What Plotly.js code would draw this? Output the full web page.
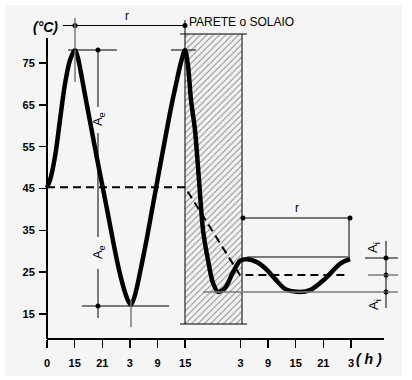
<!DOCTYPE html>
<html>
<head>
<meta charset="utf-8">
<script src="https://cdn.plot.ly/plotly-3.0.1.min.js"></script>
<style>html,body{margin:0;padding:0;background:#fff;}#chart{width:412px;height:380px;}</style>
</head>
<body>
<div id="chart"></div>
<script>
// ---- data (hours on a continuous scale, temperature in °C) ----
const curveHours = [9.0, 9.65, 10.3, 11.0, 11.82, 12.91, 14.0, 15.08,
  15.7, 16.4, 17.4, 18.6, 19.8, 21.0, 22.3, 23.6, 24.8, 25.9, 26.6, 27.24,
  28.1, 29.4, 30.7, 32.0, 33.3, 34.6, 35.9, 37.2, 38.1, 38.96,
  39.6, 40.26, 41.13, 42.0, 42.87, 43.95, 45.04, 46.13, 47.65, 49.38, 50.9, 52.42, 54.6, 56.33, 58.5, 60.67, 63.28, 66.1, 69.36, 72.6, 74.78];
const curveTemps = [45.2, 47.0, 50.0, 54.5, 61.4, 70.0, 75.7, 78.1,
  76.3, 72.5, 66.5, 59.5, 52.5, 45.8, 38.5, 31.0, 24.8, 20.3, 18.2, 17.2,
  19.5, 26.0, 33.2, 41.1, 48.9, 56.6, 64.2, 70.9, 75.2, 78.1,
  74.5, 66.2, 59.0, 47.0, 35.1, 27.9, 22.4, 20.3, 21.2, 25.0, 27.7, 28.1, 27.4, 26.0, 23.4, 21.0, 20.3, 20.7, 23.4, 27.0, 28.1];
const meanHours = [9, 38.96, 50.9, 74.35];
const meanTemps = [45.3, 45.3, 24.3, 24.3];
const tickHours = [9, 15, 21, 27, 33, 39, 51, 57, 63, 69, 75];
const tickLabels = ['0', '15', '21', '3', '9', '15', '3', '9', '15', '21', '3'];
const tempTicks = [15, 25, 35, 45, 55, 65, 75];
const wallHours = [38.96, 51.34];
const wallTemps = [12.61, 81.94];
const wallLabel = 'PARETE o SOLAIO';

const FONT = 'Liberation Sans, Arial, sans-serif';
const GRAY = '#7a7a7a';

function seg(x0, y0, x1, y1, color, width) {
  return {type: 'line', xref: 'x', yref: 'y', x0: x0, y0: y0, x1: x1, y1: y1,
    line: {color: color || '#000', width: width || 1}, layer: 'above'};
}

const traces = [
  { // wall hatched
    x: [wallHours[0], wallHours[1], wallHours[1], wallHours[0], wallHours[0]],
    y: [wallTemps[0], wallTemps[0], wallTemps[1], wallTemps[1], wallTemps[0]],
    mode: 'lines', fill: 'toself', line: {width: 0, color: 'rgba(0,0,0,0)'},
    fillcolor: '#f5f5f5',
    fillpattern: {shape: '/', size: 4.5, solidity: 0.22, fgcolor: '#8c8c8c', bgcolor: '#f3f3f3'},
    hoverinfo: 'skip', showlegend: false
  },
  { // mean (dashed)
    x: meanHours, y: meanTemps, mode: 'lines',
    line: {color: '#000', width: 2, dash: '8px,5px'}, hoverinfo: 'skip', showlegend: false
  },
  { // temperature curve
    x: curveHours, y: curveTemps, mode: 'lines',
    line: {color: '#000', width: 4.5, shape: 'spline', smoothing: 0.8}, hoverinfo: 'skip', showlegend: false
  },
  { // marker dots of the annotations
    x: [15.08, 38.96, 20.07, 20.07, 51.55, 74.78, 82.6, 82.6, 82.6],
    y: [83.97, 83.97, 78.11, 16.91, 37.95, 37.95, 28.39, 24.32, 20.26],
    mode: 'markers', marker: {color: '#000', size: 5}, hoverinfo: 'skip', showlegend: false
  }
];

const shapes = [
  // background panel
  {type: 'rect', xref: 'paper', yref: 'paper', x0: -0.0882, x1: 0.9733, y0: -0.0899, y1: 0.9855,
    fillcolor: '#f5f5f5', line: {width: 0}, layer: 'below'},
  // axis lines
  seg(9, 9.02, 9, 81.0, '#000', 2),
  seg(9, 9.02, 82.17, 9.02, '#000', 2),
  // top r
  seg(12.47, 83.97, 38.96, 83.97),
  seg(15.08, 85.76, 15.08, 70.46, GRAY, 1.5),
  // Ae
  seg(13.56, 78.11, 24.2, 78.11),
  seg(20.07, 78.11, 20.07, 64.49),
  seg(20.07, 58.27, 20.07, 33.41),
  seg(20.07, 25.76, 20.07, 14.04),
  seg(16.6, 16.91, 35.49, 16.91),
  seg(27.24, 18.35, 27.24, 11.89, GRAY, 1.5),
  seg(35.92, 78.11, 41.35, 78.11),
  // wall outline
  seg(38.96, 85.28, 38.96, 12.61),
  seg(51.34, 81.94, 51.34, 12.61),
  seg(37.88, 81.94, 52.42, 81.94),
  seg(37.88, 12.61, 52.42, 12.61),
  // right r
  seg(51.55, 37.95, 74.78, 37.95),
  seg(74.57, 37.95, 74.57, 28.15),
  seg(52.42, 28.63, 74.35, 28.63),
  // Ai
  seg(42.87, 20.26, 85.2, 20.26, GRAY, 1.5),
  seg(78.04, 28.39, 85.2, 28.39),
  seg(78.69, 24.32, 85.2, 24.32, GRAY, 1.5),
  seg(82.6, 32.45, 82.6, 16.43)
];

const annFont = {family: FONT, size: 12, color: '#000'};
const symFont = {family: FONT, size: 13, color: '#000'};
const annotations = [
  {x: 26.37, y: 84.1, xref: 'x', yref: 'y', text: 'r', showarrow: false, yanchor: 'bottom', font: annFont},
  {x: 39.4, y: 84.8, xref: 'x', yref: 'y', text: wallLabel, showarrow: false, xanchor: 'left', yanchor: 'middle', font: annFont},
  {x: 20.07, y: 61.6, xref: 'x', yref: 'y', text: 'A<sub>e</sub>', textangle: -90, showarrow: false, font: symFont},
  {x: 20.07, y: 29.8, xref: 'x', yref: 'y', text: 'A<sub>e</sub>', textangle: -90, showarrow: false, font: symFont},
  {x: 63.28, y: 38.2, xref: 'x', yref: 'y', text: 'r', showarrow: false, yanchor: 'bottom', font: annFont},
  {x: 80.0, y: 30.78, xref: 'x', yref: 'y', text: 'A<sub>i</sub>', textangle: -90, showarrow: false, font: symFont},
  {x: 80.0, y: 17.15, xref: 'x', yref: 'y', text: 'A<sub>i</sub>', textangle: -90, showarrow: false, font: symFont},
  {x: -0.02, y: 0.95, xref: 'paper', yref: 'paper', text: '<b><i>(°C)</i></b>', showarrow: false,
    font: {family: FONT, size: 14, color: '#000'}},
  {x: 0.925, y: -0.07, xref: 'paper', yref: 'paper', text: '<b><i>( h )</i></b>', showarrow: false,
    font: {family: FONT, size: 14, color: '#000'}}
];

const tickFont = {family: FONT, size: 11, color: '#000', weight: 'bold'};

const layout = {
  width: 412, height: 380,
  margin: {l: 38, r: 0, t: 0, b: 35, pad: 0},
  paper_bgcolor: '#ffffff',
  plot_bgcolor: 'rgba(0,0,0,0)',
  showlegend: false,
  xaxis: {
    range: [7.046, 88.245], anchor: 'free', position: 0.01739,
    tickmode: 'array', tickvals: tickHours, ticktext: tickLabels,
    ticks: 'outside', ticklen: 8, tickwidth: 1.5, tickcolor: '#000', ticklabelstandoff: 6,
    showline: false, showgrid: false, zeroline: false, tickfont: tickFont, fixedrange: true
  },
  yaxis: {
    range: [7.589, 90.066], anchor: 'free', position: 0.02406,
    tickmode: 'array', tickvals: tempTicks,
    ticks: 'outside', ticklen: 8, tickwidth: 1.5, tickcolor: '#000', ticklabelstandoff: 2,
    showline: false, showgrid: false, zeroline: false, tickfont: tickFont, fixedrange: true
  },
  shapes: shapes,
  annotations: annotations
};

Plotly.newPlot('chart', traces, layout, {displayModeBar: false, staticPlot: true});
</script>
</body>
</html>
